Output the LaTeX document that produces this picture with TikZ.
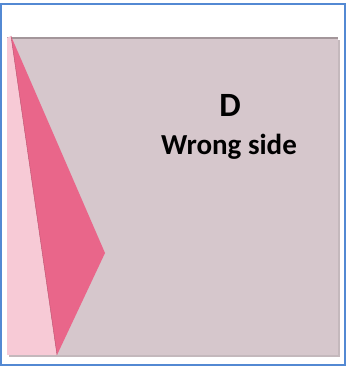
\documentclass[tikz,border=0pt]{standalone}
\usepackage{fontspec}
\newfontfamily\labelfont{Carlito}
\usepackage{tkz-euclide}
\definecolor{frameblue}{HTML}{5389D3}
\definecolor{sheetgrey}{HTML}{D6C7CC}
\definecolor{shadegrey}{HTML}{C4B8BC}
\definecolor{edgegrey}{HTML}{A3969A}
\definecolor{flappink}{HTML}{E9668A}
\definecolor{lightpink}{HTML}{F7CAD6}
\tikzset{sidelabel/.style={font=\labelfont\bfseries, anchor=base, inner sep=0pt}}

\begin{document}
\begin{tikzpicture}[x=1pt, y=1pt]
                \useasboundingbox (0,0) rectangle (353,370);
                \tkzDefPoints{1/5/F1, 345/366/F2, 7/15/S1, 338/332/S2, 7/332/S3}
                \tkzDefPoints{11/334/A, 105/117/B, 57/15/C, 7/15/L}
                % sheet with soft shadow
                \fill[shadegrey] (9,13) rectangle (340,330);
                \fill[sheetgrey] (S1) rectangle (S2);
                \draw[edgegrey, line width=1.2pt] (S3) -- (S2);
                % folded flap
                \tkzFillPolygon[fill=lightpink](S3,L,C,A)
                \tkzFillPolygon[fill=flappink](A,B,C)
                \draw[flappink!80!black, line width=0.4pt] (A) -- (C);
                \node[sidelabel, font=\labelfont\bfseries\fontsize{34}{34}\selectfont] (side) at (230,253) {D};
                \node[sidelabel, font=\labelfont\bfseries\fontsize{29}{29}\selectfont] (wrong) at (229,215) {Wrong side};
                \draw[frameblue, line width=1.6pt] (F1) rectangle (F2);
            \end{tikzpicture}
\end{document}
